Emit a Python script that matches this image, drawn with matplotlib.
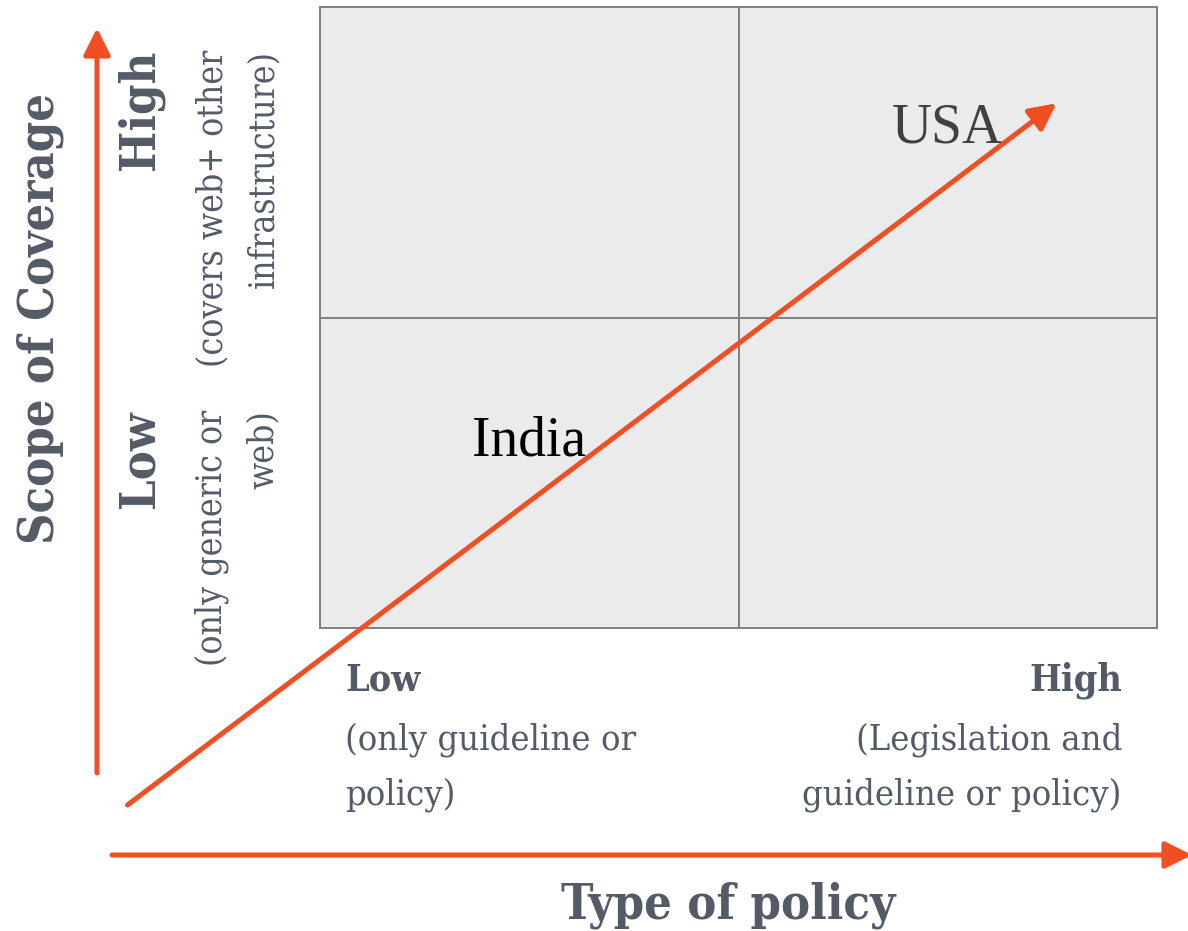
import matplotlib.pyplot as plt

# Quadrant matrix: policy type (x) vs scope of coverage (y), each split Low / High
x_levels = ["Low", "High"]
x_notes = [["(only guideline or", "policy)"], ["(Legislation and", "guideline or policy)"]]
y_levels = ["Low", "High"]
y_notes = [["(only generic or", "web)"], ["(covers web+ other", "infrastructure)"]]
x_title = "Type of policy"
y_title = "Scope of Coverage"

# Countries placed on the matrix (data units, 0..2 per axis)
countries = ["India", "USA"]
country_x = [0.50, 1.50]
country_y = [0.60, 1.61]
country_colors = ["#000000", "#404040"]

# Trend arrow running through the matrix (data units)
trend_start = (-0.46, -0.57)
trend_end = (1.76, 1.69)

ORANGE = "#F04E23"
GREY_TXT = "#535B67"
SERIF = "DejaVu Serif"
STRETCH = "condensed"

W, H = 1188, 931
fig = plt.figure(figsize=(W / 100, H / 100), dpi=100)
fig.patch.set_facecolor("white")

# box sits at pixels x 320..1157, y 7..628
ax = fig.add_axes([320 / W, (H - 628) / H, 837 / W, 621 / H])
ax.set_xlim(0, len(x_levels))
ax.set_ylim(0, len(y_levels))
ax.set_facecolor("#EBEBEB")
ax.set_xticks([])
ax.set_yticks([])
for s in ax.spines.values():
    s.set_color("#7F7F7F")
    s.set_linewidth(1.4)
for i in range(1, len(x_levels)):
    ax.axvline(i, color="#7F7F7F", lw=1.4)
for i in range(1, len(y_levels)):
    ax.axhline(i, color="#7F7F7F", lw=1.4)


def fx(px):
    return (px - 320) / 837


def fy(py):
    return (628 - py) / 621


arrow_kw = dict(arrowstyle="-|>,head_length=0.9,head_width=0.45", color=ORANGE,
                lw=3.6, shrinkA=0, shrinkB=0, mutation_scale=18)

# vertical axis arrow
ax.annotate("", xy=(fx(97), fy(28)), xytext=(fx(97), fy(773)),
            xycoords="axes fraction", textcoords="axes fraction",
            arrowprops=arrow_kw, annotation_clip=False)
# horizontal axis arrow
ax.annotate("", xy=(fx(1192), fy(855)), xytext=(fx(112), fy(855)),
            xycoords="axes fraction", textcoords="axes fraction",
            arrowprops=arrow_kw, annotation_clip=False)

# trend arrow through the quadrants
ax.annotate("", xy=trend_end, xytext=trend_start, xycoords="data",
            arrowprops=arrow_kw, annotation_clip=False)

for name, x, y, c in zip(countries, country_x, country_y, country_colors):
    ax.text(x, y, name, ha="center", va="center", fontsize=40, color=c,
            family="Liberation Serif", clip_on=False)

txt = dict(color=GREY_TXT, family=SERIF, fontstretch=STRETCH,
           transform=ax.transAxes)

# axis titles
ax.text(fx(40), fy(318), y_title, rotation=90, ha="center", va="center",
        fontsize=35, fontweight="bold", **txt)
ax.text(fx(728), fy(905), x_title, ha="center", va="center",
        fontsize=35, fontweight="bold", **txt)

# y-axis level labels (rotated, ends aligned at top)
y_tops = [410, 50]
for lvl, notes, top in zip(y_levels, y_notes, y_tops):
    ax.text(fx(140), fy(top), lvl, rotation=90, rotation_mode="anchor",
            ha="right", va="center", fontsize=35, fontweight="bold", **txt)
    for note, px in zip(notes, [212, 263]):
        ax.text(fx(px), fy(top), note, rotation=90, rotation_mode="anchor",
                ha="right", va="center", fontsize=25.5, **txt)

# x-axis level labels
x_anchor = [(345, "left"), (1122, "right")]
for lvl, notes, (px, ha) in zip(x_levels, x_notes, x_anchor):
    ax.text(fx(px), fy(680), lvl, ha=ha, va="center", fontsize=27,
            fontweight="bold", **txt)
    for note, py in zip(notes, [740, 795]):
        ax.text(fx(px), fy(py), note, ha=ha, va="center", fontsize=26, **txt)

fig.savefig("out.png", dpi=100)
